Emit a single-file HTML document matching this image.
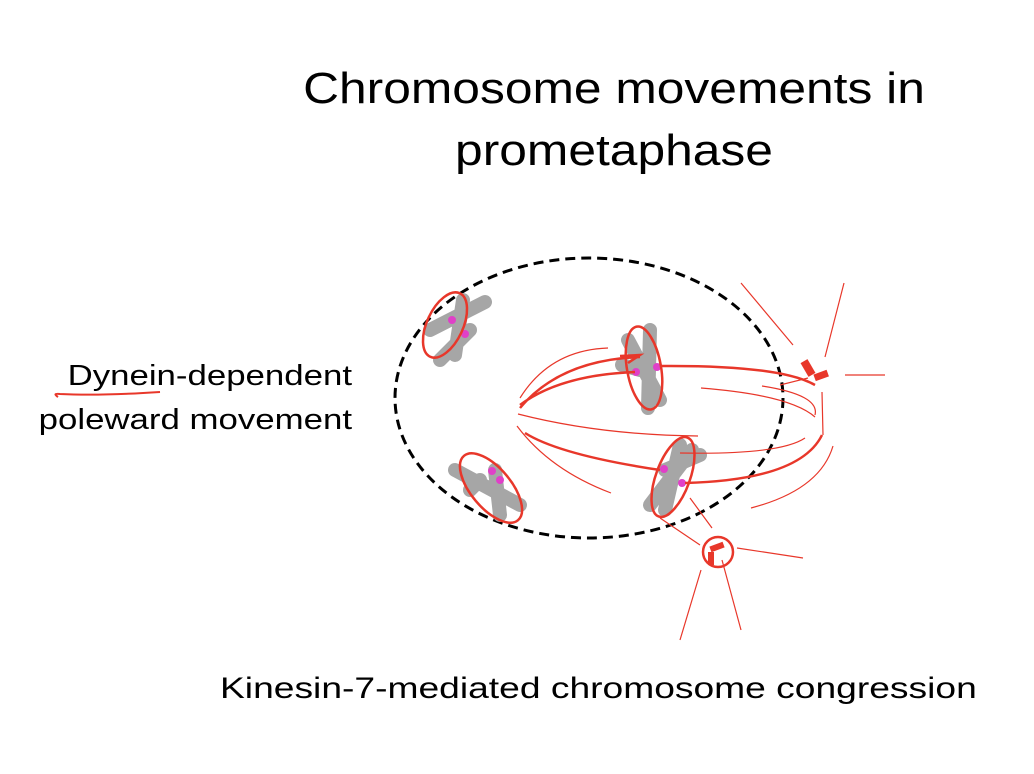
<!DOCTYPE html>
<html><head><style>
body{margin:0;width:1034px;height:774px;background:#fff;overflow:hidden;font-family:"Liberation Sans",sans-serif;}
.t{position:absolute;color:#000;white-space:nowrap}
</style></head><body>
<div class="t" style="left:302px;top:58px;width:624px;text-align:center;font-size:44px;line-height:62px;transform:scaleX(1.13);transform-origin:312px 0">Chromosome movements in<br>prometaphase</div>
<div class="t" style="left:20px;top:354px;width:332px;text-align:right;font-size:29px;line-height:44px;transform:scaleX(1.2);transform-origin:332px 0">Dynein-dependent<br>poleward movement</div>
<div class="t" style="left:220px;top:672px;font-size:30px;transform:scaleX(1.24);transform-origin:0 0">Kinesin-7-mediated chromosome congression</div>
<svg width="1034" height="774" style="position:absolute;left:0;top:0">
<path d="M58 397 q-6 -4 2 -3 q40 2 100 -2" stroke="#e8372a" stroke-width="2" fill="none"/>
<ellipse cx="589" cy="398" rx="194" ry="140" fill="none" stroke="#000" stroke-width="3" stroke-dasharray="10,6"/>
<g stroke="#a6a6a6" stroke-width="14" stroke-linecap="round" fill="none">
<path d="M430 330 L485 302 M463 300 L455 355 M440 360 L470 330"/>
<path d="M628 340 L660 400 M650 330 L648 408 M622 365 L640 370"/>
<path d="M455 470 L520 505 M495 470 L500 515 M470 490 L480 480"/>
<path d="M692 450 L650 505 M680 445 L665 510 M665 470 L700 455"/>
</g>
<g fill="#e040c8">
<circle cx="452" cy="320" r="4"/><circle cx="465" cy="334" r="4"/>
<circle cx="636" cy="372" r="4"/><circle cx="657" cy="367" r="4"/>
<circle cx="492" cy="471" r="4"/><circle cx="500" cy="480" r="4"/>
<circle cx="664" cy="469" r="4"/><circle cx="682" cy="483" r="4"/>
</g>
<g stroke="#e8372a" fill="none" stroke-width="2.5">
<ellipse cx="445" cy="325" rx="18" ry="35" transform="rotate(25 445 325)"/>
<ellipse cx="644" cy="368" rx="17" ry="42" transform="rotate(-10 644 368)"/>
<ellipse cx="491" cy="488" rx="20" ry="42" transform="rotate(-40 491 488)"/>
<ellipse cx="673" cy="477" rx="17" ry="42" transform="rotate(20 673 477)"/>
<circle cx="718" cy="552" r="15"/>
<path d="M520 408 Q560 360 640 357 M520 405 Q560 375 635 372 M660 366 Q780 365 815 385 M525 433 Q560 455 660 470 M685 483 Q800 480 822 435"/>
<path d="M620 356 L640 355 L628 363" />
</g>
<g stroke="#e8372a" fill="none" stroke-width="1.2">
<path d="M520 398 Q550 350 608 348 M518 414 Q600 435 698 436 M517 426 Q550 470 611 493 M741 283 L793 345 M844 283 L825 357 M845 375 L885 375 M762 386 Q820 395 815 415 M701 388 Q790 395 815 417 M822 392 L823 435 M680 453 Q780 455 805 438 M751 508 Q820 490 833 446 M690 498 L712 528 M660 518 L700 545 M737 548 L803 558 M701 570 L680 640 M722 560 L741 630 M780 385 L808 378"/>
</g>
<g fill="#e8372a">
<rect x="804" y="360" width="8" height="16" transform="rotate(-30 808 368)"/>
<rect x="814" y="372" width="14" height="7" transform="rotate(-20 821 375)"/>
<rect x="710" y="544" width="14" height="6" transform="rotate(-20 717 547)"/>
<rect x="708" y="552" width="6" height="13"/>
</g>
</svg>
</body></html>
